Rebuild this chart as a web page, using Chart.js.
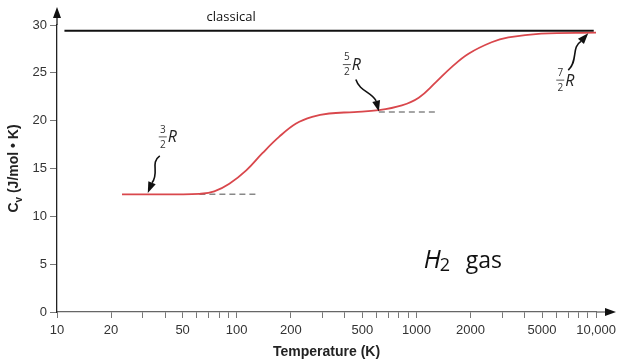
<!DOCTYPE html>
<html><head><meta charset="utf-8">
<script src="https://cdn.jsdelivr.net/npm/chart.js@4/dist/chart.umd.min.js"></script>
<style>html,body{margin:0;padding:0;background:#fff}</style>
</head><body>
<canvas id="c" width="621" height="360" style="width:621px;height:360px;display:block"></canvas>
<script>
// ---- data ----
const temperatures = [23, 45, 62, 75, 91, 113, 139, 172, 214, 263, 327, 450, 618, 830, 1030, 1280, 1570, 1950, 2620, 3250, 4950, 10000];
const cvValues     = [12.3, 12.3, 12.35, 12.6, 13.4, 14.8, 16.6, 18.3, 19.7, 20.4, 20.75, 20.9, 21.1, 21.6, 22.4, 24.0, 25.6, 27.0, 28.2, 28.7, 29.1, 29.2];
const classicalT   = [11, 9700];
const classicalCv  = [29.4, 29.4];
const plateau1T    = [62, 128];
const plateau1Cv   = [12.3, 12.3];
const plateau2T    = [618, 1330];
const plateau2Cv   = [20.9, 20.9];
const xTickValues  = [10,20,30,40,50,60,70,80,90,100,200,300,400,500,600,700,800,900,1000,2000,3000,4000,5000,6000,7000,8000,9000,10000];
const xTickLabels  = {10:'10',20:'20',50:'50',100:'100',200:'200',500:'500',1000:'1000',2000:'2000',5000:'5000',10000:'10,000'};
const yTickValues  = [0, 5, 10, 15, 20, 25, 30];
const fractionNotes = [
  {num:'3', den:'2', t:32,   v:12.45},
  {num:'5', den:'2', t:618,  v:20.95},
  {num:'7', den:'2', t:9040, v:29.15}
];

const zip = (xs, ys) => xs.map((x, i) => ({x, y: ys[i]}));

// ---- annotation drawing (shapes are pixel offsets from data anchors) ----
const noteShapes = [
  {fx:15, fy:-56, path:[[12,-37],[2,-30],[12,-20],[5,-12]]},
  {fx:-32, fy:-47, path:[[-23,-32],[-19,-20],[-8,-20],[-3,-12]]},
  {fx:-28, fy:47, path:[[-20,37],[-10,28],[-17,14],[-8,9]]}
];

function arrowHead(ctx, fromX, fromY, tipX, tipY) {
  const dx = tipX - fromX, dy = tipY - fromY, L = Math.hypot(dx, dy);
  const ux = dx / L, uy = dy / L, len = 11, hw = 4;
  const bx = tipX - ux * len, by = tipY - uy * len;
  ctx.beginPath();
  ctx.moveTo(tipX, tipY);
  ctx.lineTo(bx - uy * hw, by + ux * hw);
  ctx.lineTo(bx + uy * hw, by - ux * hw);
  ctx.closePath();
  ctx.fill();
  return [bx, by];
}

const annotations = {
  id: 'annotations',
  afterDraw(chart) {
    const ctx = chart.ctx, xs = chart.scales.x, ys = chart.scales.y, a = chart.chartArea;
    ctx.save();
    // axis arrows
    ctx.fillStyle = '#111'; ctx.strokeStyle = '#222'; ctx.lineWidth = 1.3;
    ctx.beginPath(); ctx.moveTo(a.left, a.top); ctx.lineTo(a.left, 14); ctx.stroke();
    arrowHead(ctx, a.left, 30, a.left, 7);
    ctx.strokeStyle = '#666';
    ctx.beginPath(); ctx.moveTo(a.right, a.bottom); ctx.lineTo(608, a.bottom); ctx.stroke();
    ctx.fillStyle = '#111';
    arrowHead(ctx, 590, a.bottom, 616, a.bottom);

    // fraction notes with curly arrows
    fractionNotes.forEach((n, i) => {
      const s = noteShapes[i];
      const px = xs.getPixelForValue(n.t), py = ys.getPixelForValue(n.v);
      const p = s.path.map(([dx, dy]) => [px + dx, py + dy]);
      ctx.fillStyle = '#111'; ctx.strokeStyle = '#111'; ctx.lineWidth = 1.6;
      const [bx, by] = arrowHead(ctx, p[3][0], p[3][1], px, py);
      ctx.beginPath();
      ctx.moveTo(p[0][0], p[0][1]);
      ctx.bezierCurveTo(p[1][0], p[1][1], p[2][0], p[2][1], bx, by);
      ctx.stroke();
      const cx = px + s.fx, cy = py + s.fy;
      ctx.fillStyle = '#333';
      ctx.font = '10px "Open Sans"';
      ctx.textAlign = 'center'; ctx.textBaseline = 'middle';
      ctx.fillText(n.num, cx, cy - 7);
      ctx.fillText(n.den, cx, cy + 8);
      ctx.strokeStyle = '#444'; ctx.lineWidth = 0.9;
      ctx.beginPath(); ctx.moveTo(cx - 4, cy); ctx.lineTo(cx + 4, cy); ctx.stroke();
      ctx.fillStyle = '#222';
      ctx.font = 'italic 16px "Open Sans"';
      ctx.textAlign = 'left';
      ctx.fillText('R', cx + 5, cy + 1);
    });

    // classical label
    ctx.fillStyle = '#111';
    ctx.font = '13px "Open Sans"';
    ctx.textAlign = 'left'; ctx.textBaseline = 'middle';
    ctx.fillText('classical', xs.getPixelForValue(68), ys.getPixelForValue(classicalCv[0]) - 13);

    // H2 gas label
    const hx = xs.getPixelForValue(1100), hy = ys.getPixelForValue(4.6);
    ctx.textBaseline = 'alphabetic';
    ctx.font = 'italic 25px "Open Sans"';
    ctx.fillText('H', hx, hy);
    const hw = ctx.measureText('H').width;
    ctx.font = '18px "Open Sans"';
    ctx.fillText('2', hx + hw - 1, hy + 3);
    ctx.font = '23px "Open Sans"';
    ctx.fillText('gas', hx + 42, hy);

    // y-axis title with subscript
    ctx.translate(14, (a.top + a.bottom) / 2);
    ctx.rotate(-Math.PI / 2);
    ctx.fillStyle = '#222';
    ctx.textBaseline = 'middle';
    const f1 = 'bold 14px "Liberation Sans", Arial', f2 = 'bold 10px "Liberation Sans", Arial';
    ctx.font = f1; const wC = ctx.measureText('C').width;
    const rest = ' (J/mol \u2022 K)';
    const wR = ctx.measureText(rest).width;
    ctx.font = f2; const wv = ctx.measureText('v').width;
    let x0 = -(wC + wv + wR) / 2;
    ctx.font = f1; ctx.fillText('C', x0, 0);
    ctx.font = f2; ctx.fillText('v', x0 + wC, 5);
    ctx.font = f1; ctx.fillText(rest, x0 + wC + wv, 0);
    ctx.restore();
  }
};

new Chart(document.getElementById('c'), {
  type: 'line',
  data: {
    datasets: [
      {data: zip(plateau1T, plateau1Cv), borderColor: '#888', borderWidth: 1.5, borderDash: [6, 4], pointRadius: 0, order: 3},
      {data: zip(plateau2T, plateau2Cv), borderColor: '#888', borderWidth: 1.5, borderDash: [6, 4], pointRadius: 0, order: 3},
      {data: zip(classicalT, classicalCv), borderColor: '#111', borderWidth: 2, pointRadius: 0, order: 2},
      {data: zip(temperatures, cvValues), borderColor: '#d9474c', borderWidth: 1.8, pointRadius: 0, tension: 0.4, order: 1}
    ]
  },
  options: {
    responsive: false,
    animation: false,
    devicePixelRatio: 1,
    layout: {padding: {left: 0, right: 23, top: 25, bottom: 0}},
    plugins: {legend: {display: false}, tooltip: {enabled: false}},
    scales: {
      x: {
        type: 'logarithmic', min: 10, max: 10000,
        afterBuildTicks: s => { s.ticks = xTickValues.map(v => ({value: v})); },
        afterFit: s => { s.height = 48; },
        ticks: {
          autoSkip: false, maxRotation: 0, padding: 5, color: '#333',
          font: {family: '"Liberation Sans", Arial', size: 13},
          callback: v => xTickLabels[v] || ''
        },
        grid: {drawOnChartArea: false, drawTicks: true, tickLength: 6, color: '#777'},
        border: {display: true, color: '#666', width: 1.3},
        title: {display: true, text: 'Temperature (K)', color: '#222', padding: {top: 7, bottom: -1},
                font: {family: '"Liberation Sans", Arial', size: 14, weight: 'bold'}}
      },
      y: {
        min: 0, max: 30,
        afterBuildTicks: s => { s.ticks = yTickValues.map(v => ({value: v})); },
        afterFit: s => { s.width = 57; },
        ticks: {padding: 3, color: '#333', font: {family: '"Liberation Sans", Arial', size: 13}},
        grid: {drawOnChartArea: false, drawTicks: true, tickLength: 7, color: '#777'},
        border: {display: true, color: '#222', width: 1.3}
      }
    }
  },
  plugins: [annotations]
});
</script>
</body></html>
